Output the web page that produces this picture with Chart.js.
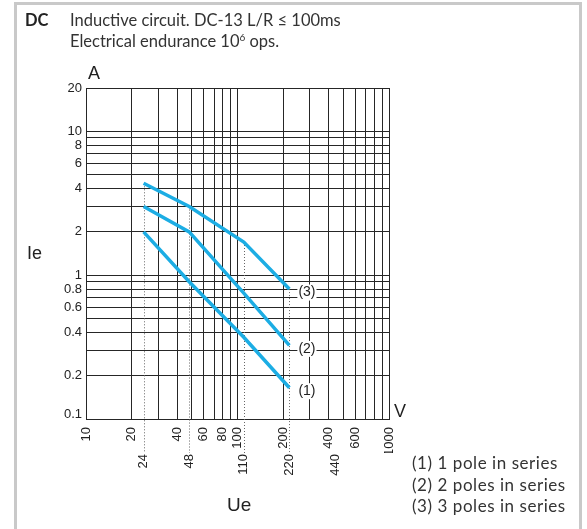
<!DOCTYPE html>
<html>
<head>
<meta charset="utf-8">
<script src="https://cdn.jsdelivr.net/npm/chart.js@4.4.1/dist/chart.umd.min.js"></script>
<style>
  html, body { margin: 0; padding: 0; background: #fff; }
  #wrap { position: relative; width: 587px; height: 529px; overflow: hidden; }
  #frame { position: absolute; left: 14px; top: 2px; width: 568px; height: 560px; border: 3px solid #c9c9c9; box-sizing: border-box; }
  #grafico { position: absolute; left: 0; top: 0; }
  .txt { position: absolute; font-family: Lato, "Open Sans", sans-serif; color: #333; white-space: nowrap; }
  .cap { position: absolute; font-family: "Liberation Sans Narrow", "Liberation Sans", Arial, sans-serif; color: #222; white-space: nowrap; line-height: 1; }
</style>
</head>
<body>
<div id="wrap">
  <div id="frame"></div>
  <canvas id="grafico" width="587" height="529"></canvas>
  <div class="txt" style="left:25px; top:10px; font-size:16.5px; line-height:20px; font-weight:bold; color:#222">DC</div>
  <div class="txt" style="left:70px; top:10px; font-size:16.5px; line-height:20px">Inductive circuit. DC-13 L/R ≤ 100ms</div>
  <div class="txt" style="left:70px; top:31px; font-size:16.5px; line-height:20px">Electrical endurance 10<sup style="font-size:10px; vertical-align:6px; line-height:0">6</sup> ops.</div>
  <div class="cap" style="left:88px; top:64px; font-size:18px">A</div>
  <div class="cap" style="left:394px; top:402px; font-size:18px">V</div>
  <div class="cap" style="left:27px; top:244px; font-size:18px">Ie</div>
  <div class="cap" style="left:227px; top:495px; font-size:19px">Ue</div>
  <div class="txt" style="left:412px; top:452px; font-size:17px; line-height:21.5px; letter-spacing:0.55px">(1) 1 pole in series<br>(2) 2 poles in series<br>(3) 3 poles in series</div>
</div>
<script>
// rejilla y etiquetas
const voltiosRejilla = [10, 20, 30, 40, 50, 60, 70, 80, 90, 100, 200, 300, 400, 500, 600, 700, 800, 900, 1000];
const voltiosEtiquetas = [10, 20, 40, 60, 80, 100, 200, 400, 600, 1000];
const voltiosNominales = [24, 48, 110, 220, 440];
const amperiosRejilla = [0.1, 0.2, 0.3, 0.4, 0.5, 0.6, 0.7, 0.8, 0.9, 1, 2, 3, 4, 5, 6, 7, 8, 9, 10, 20];
const amperiosEtiquetas = [0.1, 0.2, 0.4, 0.6, 0.8, 1, 2, 4, 6, 8, 10, 20];

// curvas
const tensiones = [24, 48, 110, 220];
const polo1 = [2, 0.9, 0.37, 0.165];
const polo2 = [3, 2, 0.75, 0.325];
const polo3 = [4.35, 3, 1.7, 0.8];
const nombresCurvas = ['(1)', '(2)', '(3)'];

const azul = '#1cade4';
const fuenteEje = "'Liberation Sans Narrow', 'Liberation Sans', Arial, sans-serif";
const fuenteY = "'Liberation Sans', Arial, sans-serif";

function serie(valores) {
  return tensiones.map((v, i) => ({ x: v, y: valores[i] }));
}

// lineas punteadas desde la curva superior hasta la segunda fila de etiquetas
const punteadas = {
  id: 'punteadas',
  beforeDatasetsDraw(chart) {
    const { ctx, scales } = chart;
    const fondo = scales.x2.top;
    ctx.save();
    ctx.strokeStyle = '#666';
    ctx.lineWidth = 1;
    ctx.setLineDash([1, 2]);
    tensiones.forEach((v, i) => {
      const x = Math.round(scales.x.getPixelForValue(v)) + 0.5;
      const y = scales.y.getPixelForValue(polo3[i]);
      ctx.beginPath();
      ctx.moveTo(x, y);
      ctx.lineTo(x, fondo);
      ctx.stroke();
    });
    ctx.restore();
  }
};

// rotulos (1) (2) (3) al final de cada curva
const rotulos = {
  id: 'rotulos',
  afterDatasetsDraw(chart) {
    const { ctx, scales } = chart;
    const finales = [polo1, polo2, polo3].map(s => s[s.length - 1]);
    const xFin = scales.x.getPixelForValue(tensiones[tensiones.length - 1]);
    ctx.save();
    ctx.font = '14px ' + fuenteEje;
    ctx.textBaseline = 'middle';
    finales.forEach((val, i) => {
      const y = scales.y.getPixelForValue(val) + 3.5;
      const w = ctx.measureText(nombresCurvas[i]).width;
      ctx.fillStyle = '#fff';
      ctx.fillRect(xFin + 8, y - 8, w + 2, 16);
      ctx.fillStyle = '#222';
      ctx.fillText(nombresCurvas[i], xFin + 9, y);
    });
    ctx.restore();
  }
};

const estiloCurva = {
  borderColor: azul,
  borderWidth: 3.5,
  pointRadius: 0,
  fill: false,
  tension: 0
};

new Chart(document.getElementById('grafico'), {
  type: 'line',
  data: {
    datasets: [
      Object.assign({ label: '1 pole in series', data: serie(polo1) }, estiloCurva),
      Object.assign({ label: '2 poles in series', data: serie(polo2) }, estiloCurva),
      Object.assign({ label: '3 poles in series', data: serie(polo3) }, estiloCurva)
    ]
  },
  options: {
    responsive: false,
    animation: false,
    events: [],
    layout: { padding: { left: 0, top: 88, right: 198, bottom: 36 } },
    plugins: { legend: { display: false }, tooltip: { enabled: false } },
    scales: {
      x: {
        type: 'logarithmic',
        position: 'bottom',
        weight: 0,
        min: 10,
        max: 1000,
        afterBuildTicks: (eje) => { eje.ticks = voltiosRejilla.map(v => ({ value: v })); },
        afterFit: (eje) => { eje.height = 34; },
        grid: { color: '#262626', lineWidth: 1, drawTicks: false },
        border: { color: '#262626', width: 1 },
        ticks: {
          autoSkip: false,
          minRotation: 90,
          maxRotation: 90,
          padding: 8,
          color: '#222',
          font: { family: fuenteEje, size: 13 },
          callback: (v) => voltiosEtiquetas.includes(v) ? String(v) : ''
        }
      },
      x2: {
        type: 'logarithmic',
        position: 'bottom',
        weight: 1,
        min: 10,
        max: 1000,
        afterBuildTicks: (eje) => { eje.ticks = voltiosNominales.map(v => ({ value: v })); },
        afterFit: (eje) => { eje.height = 40; },
        grid: { display: false, drawTicks: false },
        border: { display: false },
        ticks: {
          autoSkip: false,
          minRotation: 90,
          maxRotation: 90,
          padding: 1,
          color: '#222',
          font: { family: fuenteEje, size: 13 },
          callback: (v) => String(v)
        }
      },
      y: {
        type: 'logarithmic',
        min: 0.1,
        max: 20,
        afterBuildTicks: (eje) => { eje.ticks = amperiosRejilla.map(v => ({ value: v })); },
        afterFit: (eje) => { eje.width = 86; },
        grid: { color: '#262626', lineWidth: 1, drawTicks: false },
        border: { color: '#262626', width: 1 },
        ticks: {
          autoSkip: false,
          padding: 4,
          color: '#222',
          font: (c) => c.tick && c.tick.value === 0.1
            ? { family: fuenteY, size: 13, lineHeight: 0.7 }
            : { family: fuenteY, size: 13 },
          callback: (v) => {
            if (!amperiosEtiquetas.includes(v)) return '';
            return v === 0.1 ? ['0.1', ''] : String(v);
          }
        }
      }
    }
  },
  plugins: [punteadas, rotulos]
});
</script>
</body>
</html>
